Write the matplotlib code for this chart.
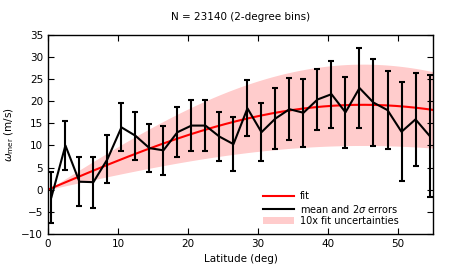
import numpy as np
import matplotlib
matplotlib.use("Agg")
from matplotlib import pyplot as plt
from matplotlib.lines import Line2D

# latitudes des bins (2 degres) et moyennes
lat = [0.5, 2.5, 4.5, 6.5, 8.5, 10.5, 12.5, 14.5, 16.5, 18.5,
       20.5, 22.5, 24.5, 26.5, 28.5, 30.5, 32.5, 34.5, 36.5, 38.5,
       40.5, 42.5, 44.5, 46.5, 48.5, 50.5, 52.5, 54.5]
mean = [-1.7, 10.0, 1.8, 1.7, 6.9, 14.1, 12.2, 9.4, 8.9, 13.0,
        14.5, 14.5, 12.0, 10.3, 18.4, 13.0, 16.1, 18.2, 17.4, 20.4,
        21.6, 17.5, 23.0, 19.7, 18.0, 13.1, 15.9, 12.2]
# erreurs 2 sigma (demi-hauteur des barres)
err2 = [5.8, 5.6, 5.6, 5.8, 5.5, 5.4, 5.4, 5.5, 5.5, 5.6,
        5.7, 5.7, 5.6, 6.1, 6.3, 6.5, 6.8, 7.0, 7.7, 6.9,
        7.6, 8.0, 9.0, 9.8, 8.9, 11.2, 10.6, 13.8]

# parametres du fit  A sin(2 lat)
fit_amp = 19.2
fit_err = 0.92
n_obs = 23140

lat_fine = np.linspace(0, 55, 300)
shape = np.sin(np.radians(2 * lat_fine))

fig = plt.figure(figsize=(4.52, 2.71), dpi=100)
ax = fig.add_axes([0.106, 0.137, 0.852, 0.734])

band = ax.fill_between(lat_fine, (fit_amp - 10 * fit_err) * shape, (fit_amp + 10 * fit_err) * shape,
                       color="#ffcccc", lw=0)
ax.plot(lat_fine, fit_amp * shape, color="red", lw=1.5)
ax.errorbar(lat, mean, yerr=err2, color="black", lw=1.5, elinewidth=1.5,
            capsize=2.5, capthick=1.5)

ax.set_xlim(0, 55)
ax.set_ylim(-10, 35)
ax.set_xticks([0, 10, 20, 30, 40, 50])
ax.set_yticks(np.arange(-10, 36, 5))
ax.tick_params(direction="in", top=True, right=True, labelsize=7.5, length=4, width=0.8)
for s in ax.spines.values():
    s.set_linewidth(1.0)

ax.set_title("N = %d (2-degree bins)" % n_obs, fontsize=7.5, pad=11)
ax.set_xlabel("Latitude (deg)", fontsize=7.5)
ax.set_ylabel(r"$\omega_{\rm mer}$ (m/s)", fontsize=7.5)

handles = [Line2D([], [], color="red", lw=1.5),
           Line2D([], [], color="black", lw=1.5),
           band]
labels = ["fit", r"mean and 2$\sigma$ errors", "10x fit uncertainties"]
ax.legend(handles, labels, loc="lower right", bbox_to_anchor=(0.93, 0.0),
          frameon=False, fontsize=7, handlelength=3.2, labelspacing=0.15,
          handletextpad=0.6, borderaxespad=0.4)

fig.savefig("out.png", dpi=100)
